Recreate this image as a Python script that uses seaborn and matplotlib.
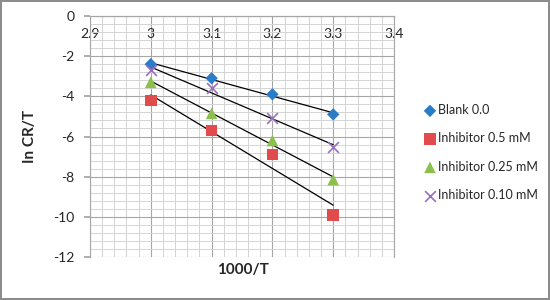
import matplotlib
matplotlib.use("Agg")
import matplotlib.pyplot as plt
import numpy as np
import pandas as pd
import seaborn as sns
from matplotlib.ticker import MultipleLocator

sns.set_theme(style="white")
plt.rcParams['font.family'] = ['Lato', 'DejaVu Sans']
plt.rcParams['axes.unicode_minus'] = False

x_vals = [3.0, 3.1, 3.2, 3.3]
blank = [-2.4, -3.1, -3.9, -4.9]
inh_05 = [-4.2, -5.7, -6.9, -9.9]
inh_025 = [-3.3, -4.85, -6.2, -8.15]
inh_010 = [-2.7, -3.6, -5.1, -6.5]
series_names = ["Blank 0.0", "Inhibitor 0.5 mM", "Inhibitor 0.25 mM", "Inhibitor 0.10 mM"]

df = pd.DataFrame({
    "x": x_vals * 4,
    "y": blank + inh_05 + inh_025 + inh_010,
    "series": [n for n in series_names for _ in x_vals],
})

colors = {"Blank 0.0": "#2a7cc6", "Inhibitor 0.5 mM": "#e24b4b",
          "Inhibitor 0.25 mM": "#8cc04c", "Inhibitor 0.10 mM": "#9a6cc4"}
markers = {"Blank 0.0": "D", "Inhibitor 0.5 mM": "s",
           "Inhibitor 0.25 mM": "^", "Inhibitor 0.10 mM": "x"}
sizes = {"Blank 0.0": 40, "Inhibitor 0.5 mM": 70,
         "Inhibitor 0.25 mM": 70, "Inhibitor 0.10 mM": 60}

fig = plt.figure(figsize=(5.5, 3.0), dpi=100)
fig.patch.set_edgecolor('#8c8c8c')
fig.patch.set_linewidth(1.5)
ax = fig.add_axes([0.1636, 0.1433, 0.5528, 0.8034])

# trendlines
for name in series_names:
    sub = df[df.series == name]
    sns.regplot(data=sub, x="x", y="y", scatter=False, ci=None, ax=ax,
                color="black", line_kws={"lw": 0.9, "zorder": 3})

for name in series_names:
    sub = df[df.series == name]
    kw = {"edgecolor": "none"} if markers[name] != "x" else {"linewidth": 1.2}
    sns.scatterplot(data=sub, x="x", y="y", marker=markers[name],
                    color=colors[name], s=sizes[name], ax=ax, label=name,
                    zorder=4, **kw)

ax.set_xlim(2.9, 3.4)
ax.set_ylim(-12, 0)
ax.xaxis.set_major_locator(MultipleLocator(0.1))
ax.xaxis.set_minor_locator(MultipleLocator(0.02))
ax.yaxis.set_major_locator(MultipleLocator(2))
ax.yaxis.set_minor_locator(MultipleLocator(0.4))
ax.grid(which="major", color="#a6a6a6", lw=0.8)
ax.grid(which="minor", color="#d4d4d4", lw=0.7)
ax.set_axisbelow(True)

ax.spines['bottom'].set_position(('data', 0))
for s in ax.spines.values():
    s.set_color('#a6a6a6')
    s.set_linewidth(0.8)

ax.set_xticklabels([f"{v:g}" for v in ax.get_xticks()])
ax.tick_params(axis='x', which='major', direction='inout', length=5,
               color='#a6a6a6', pad=6, labelsize=10)
ax.tick_params(axis='y', which='major', direction='out', length=4,
               color='#a6a6a6', pad=7, labelsize=10, left=True)
ax.tick_params(which='minor', length=0)

ax.set_xlabel("")
ax.set_ylabel("In CR/T", fontsize=11, fontweight='bold', labelpad=12)
fig.text(0.442, 0.10, "1000/T", fontsize=11, fontweight='bold',
         ha='center', va='center')

leg = ax.legend(loc='upper left', bbox_to_anchor=(1.075, 0.655), frameon=False,
                fontsize=9, handletextpad=0.0, labelspacing=1.3,
                borderaxespad=0, handlelength=1.3)

fig.savefig("out.png", dpi=100)
